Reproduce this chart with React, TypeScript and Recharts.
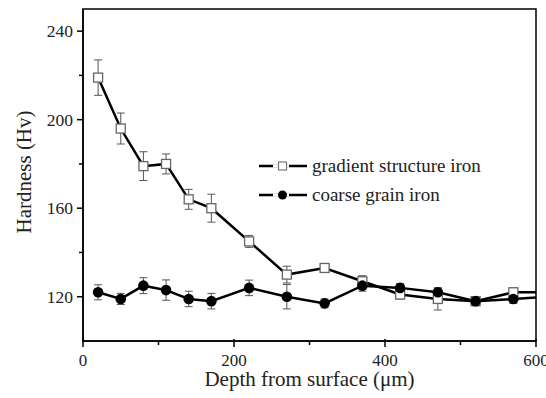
import { LineChart, Line, XAxis, YAxis, ErrorBar, ReferenceArea, Legend } from "recharts"

// depth from surface (µm); the last point only carries the lines to the frame edge
const depths = [20, 50, 80, 110, 140, 170, 220, 270, 320, 370, 420, 470, 520, 570, 600]
const gradientHv = [219, 196, 179, 180, 164, 160, 145, 130, 133, 127, 121, 119, 118, 122, 122]
const gradientErr = [8, 7, 6.5, 4.5, 4.5, 6.3, 2.7, 3.8, 2, 2.5, 2, 5, 2, 2, null]
const coarseHv = [122, 119, 125, 123, 119, 118, 124, 120, 117, 125, 124, 122, 118, 119, 119.7]
const coarseErr = [3.4, 2.5, 3.6, 4.6, 3.5, 3.5, 3.5, 5.5, 2, 2.5, 2, 2, 2, 2, null]

const xTicks = [0, 100, 200, 300, 400, 500, 600]
const xLabelled = [0, 200, 400, 600]
const yTicks = [120, 140, 160, 180, 200, 220, 240]
const yLabelled = [120, 160, 200, 240]

const legendItems = [
    { label: "gradient structure iron", marker: "square" },
    { label: "coarse grain iron", marker: "circle" },
]

const FONT = "'Liberation Serif', 'Times New Roman', serif"
const TEXT = "#222"

const data = depths.map((d, i) => ({
    depth: d,
    gradient: gradientHv[i],
    gradientErr: gradientErr[i],
    coarse: coarseHv[i],
    coarseErr: coarseErr[i],
}))

const XTick = (props: any) => {
    const { x, y, payload } = props
    const major = xLabelled.includes(payload.value)
    return (
        <g>
            <line x1={x} x2={x} y1={y - (major ? 2 : 0)} y2={y + (major ? 6 : 4)} stroke="#000" strokeWidth={1.5} />
            {major && (
                <text x={x} y={y + 25} textAnchor="middle" fontSize={17} fontFamily={FONT} fill={TEXT}>
                    {payload.value}
                </text>
            )}
        </g>
    )
}

const YTick = (props: any) => {
    const { x, y, payload } = props
    const major = yLabelled.includes(payload.value)
    return (
        <g>
            <line x1={x - (major ? 6 : 4)} x2={x} y1={y} y2={y} stroke="#000" strokeWidth={1.5} />
            {major && (
                <text x={x - 10} y={y + 6} textAnchor="end" fontSize={17.5} fontFamily={FONT} fill={TEXT}>
                    {payload.value}
                </text>
            )}
        </g>
    )
}

const SquareDot = (props: any) => {
    const { cx, cy, payload } = props
    if (payload.depth >= 600) return <g key={`s-${payload.depth}`} />
    return (
        <rect key={`s-${payload.depth}`} x={cx - 4.5} y={cy - 4.5} width={9} height={9}
            fill="#fff" stroke="#666" strokeWidth={1.3} />
    )
}

const CircleDot = (props: any) => {
    const { cx, cy, payload } = props
    if (payload.depth >= 600) return <g key={`c-${payload.depth}`} />
    return <circle key={`c-${payload.depth}`} cx={cx} cy={cy} r={5.3} fill="#000" />
}

const LegendBox = () => (
    <div style={{ fontFamily: FONT, fontSize: 19, color: TEXT }}>
        {legendItems.map((item) => (
            <div key={item.label} style={{ display: "flex", alignItems: "center", height: 29 }}>
                <svg width={54} height={20} style={{ marginRight: 4 }}>
                    <line x1={5} x2={53} y1={10} y2={10} stroke="#000" strokeWidth={2.5} />
                    <rect x={19} y={8.5} width={16} height={3} fill="#fff" />
                    {item.marker === "square" ? (
                        <rect x={24.5} y={6} width={8} height={8} fill="#fff" stroke="#777" strokeWidth={1.2} />
                    ) : (
                        <circle cx={28.5} cy={10} r={4.5} fill="#000" />
                    )}
                </svg>
                <span>{item.label}</span>
            </div>
        ))}
    </div>
)

export default function App() {
    return (
        <div style={{ position: "absolute", left: 0, top: 0, background: "#fff" }}>
            <LineChart width={546} height={398} data={data} margin={{ top: 9, right: 10, bottom: 0, left: 0 }}>
                <XAxis
                    dataKey="depth"
                    type="number"
                    domain={[0, 600]}
                    ticks={xTicks}
                    interval={0}
                    height={57}
                    tickSize={0}
                    tickMargin={0}
                    tickLine={false}
                    axisLine={{ stroke: "#000", strokeWidth: 1.5 }}
                    tick={<XTick />}
                    label={{
                        value: "Depth from surface (\u03bcm)",
                        position: "insideBottom",
                        offset: 12,
                        style: { fontFamily: FONT, fontSize: 21, fill: TEXT },
                    }}
                />
                <YAxis
                    type="number"
                    domain={[100, 250]}
                    ticks={yTicks}
                    interval={0}
                    width={83}
                    tickSize={0}
                    tickMargin={0}
                    tickLine={false}
                    axisLine={{ stroke: "#000", strokeWidth: 1.5 }}
                    tick={<YTick />}
                    label={{
                        content: () => (
                            <text transform="translate(31,172) rotate(-90)" textAnchor="middle"
                                fontSize={21} fontFamily={FONT} fill={TEXT}>
                                Hardness (Hv)
                            </text>
                        ),
                    }}
                />
                <ReferenceArea x1={0} x2={600} y1={100} y2={250} fill="none" stroke="#000" strokeWidth={1.5} ifOverflow="visible" />
                <Legend
                    layout="vertical"
                    align="center"
                    verticalAlign="middle"
                    wrapperStyle={{ left: 254, top: 151, width: 260 }}
                    content={<LegendBox />}
                />
                <Line
                    dataKey="gradient"
                    stroke="#000"
                    strokeWidth={2.5}
                    dot={<SquareDot />}
                    activeDot={false}
                    isAnimationActive={false}
                >
                    <ErrorBar dataKey="gradientErr" direction="y" width={4} stroke="#555" strokeWidth={1} isAnimationActive={false} />
                </Line>
                <Line
                    dataKey="coarse"
                    stroke="#000"
                    strokeWidth={2.5}
                    dot={<CircleDot />}
                    activeDot={false}
                    isAnimationActive={false}
                >
                    <ErrorBar dataKey="coarseErr" direction="y" width={4} stroke="#555" strokeWidth={1} isAnimationActive={false} />
                </Line>
            </LineChart>
        </div>
    )
}
